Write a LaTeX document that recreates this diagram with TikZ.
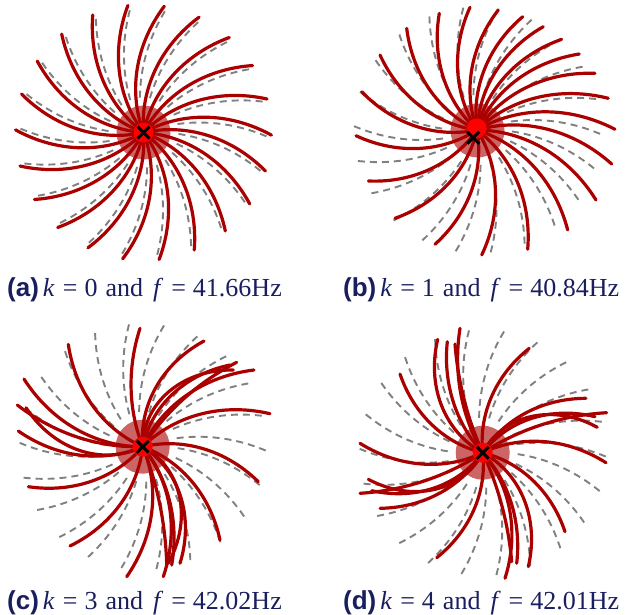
\documentclass[tikz,border=0pt]{standalone}
\usepackage{fontspec}
\setmainfont{Liberation Serif}
\setsansfont{Liberation Sans}
\definecolor{armred}{RGB}{170,0,0}
\definecolor{glowred}{RGB}{170,0,0}
\definecolor{dashgray}{RGB}{128,128,128}
\definecolor{capblue}{RGB}{25,30,95}
\tikzset{
  redarm/.style={armred, line width=3.2pt, line cap=round},
  dasharc/.style={dashgray, line width=1.9pt, dash pattern=on 7pt off 5pt},
  glow/.style={fill=glowred, fill opacity=0.6, draw=none},
  srcdot/.style={fill=red, draw=none},
  xmark/.style={black, line width=3pt},
  captext/.style={anchor=base west, inner sep=0pt, text=capblue, font=\fontsize{26}{30}\selectfont},
}
% cx cy dx dy twist
\newcommand\drawarm[5]{%
  \draw[redarm] plot[domain=0:1, samples=30, variable=\tt, smooth]
   ({#1+\tt*((#3)*cos(-(#5)*(1-\tt)) - (#4)*sin(-(#5)*(1-\tt)))},
    {#2+\tt*((#3)*sin(-(#5)*(1-\tt)) + (#4)*cos(-(#5)*(1-\tt)))});
}
\newcommand\dashoff{1.5}
\newcommand\dashtw{23}
\newcommand\dashset[2]{%
  \foreach \i in {0,...,21}{
    \pgfmathsetmacro\aa{-97+16.3636*\i+\dashoff}
    \draw[dasharc] plot[domain=35:125, samples=25, variable=\rr, smooth]
      ({#1+\rr*cos(\aa-\dashtw*(1-\rr/128))},{#2+\rr*sin(\aa-\dashtw*(1-\rr/128))});
  }}
\newcommand\capt[3]{{\sffamily\bfseries (#1)}\hspace{4pt}\textit{k}\hspace{8pt}=\hspace{7pt}#2\hspace{8pt}and\hspace{10pt}\textit{f}\hspace{8pt}=\hspace{7pt}#3Hz}
\begin{document}
\begin{tikzpicture}[x=1pt,y=-1pt]
\useasboundingbox (0,0) rectangle (639,614);
% ---------- (a)
\dashset{143.5}{132.5}
\fill[glow] (143.5,132.5) circle[radius=27pt];
\foreach \i in {0,...,21}{
  \pgfmathsetmacro\aa{-97+16.3636*\i}
  \draw[redarm] plot[domain=0:128, samples=30, variable=\rr, smooth]
    ({143.5+\rr*cos(\aa-30*(1-\rr/128))},{132.5+\rr*sin(\aa-30*(1-\rr/128))});
}
\fill[srcdot] (143.5,132.5) circle[radius=10pt];
\draw[xmark] (137.5,126.5) -- (149.5,138.5) (137.5,138.5) -- (149.5,126.5);
% ---------- (b)
\dashset{477}{130}
\fill[glow] (477.5,130.5) circle[radius=27pt];
\foreach \dx/\dy in {-7/-122.7, 21.3/-120, 45.7/-113.3, 66.3/-103.3, 84.7/-90.7, 102.3/-76, 118/-56.7, 131.3/-31.7, 138/-0.7, 134.7/34, 119/70, 90.7/100, 50.7/119.3, 4.7/125, -42/114.3, -82/88.3, -108.7/51, -121/5.7, -115.3/-38.3, -97/-75, -70.3/-101.7, -37.7/-116.7}{
  \drawarm{477}{130}{\dx}{\dy}{30}
}
\fill[srcdot] (476.7,128.3) circle[radius=10pt];
\draw[xmark] (467.3,131.7) -- (479.3,143.7) (467.3,143.7) -- (479.3,131.7);
% ---------- (c)
\dashset{142.7}{446.7}
\fill[glow] (142.7,446.7) circle[radius=27pt];
\foreach \dx/\dy/\tw in {-2.7/-118.4/20, 61.3/-105.7/35, 94/-84.4/15, 87.3/-81.7/35, 90.6/-76.7/50, 111.3/-76.7/30, 127.3/-33/30, 115.6/35/30, 77.3/93.3/30, 37.3/116.6/40, 29/118.3/25, 24/117.6/10, 25.6/116.6/50, 20.6/130/30, -16/130/30, -72.7/99.3/30, -114.4/40/30, -124.4/-15.7/30, -125.4/-41.7/20, -116.7/-39/45, -118.7/-67.7/30, -74.4/-102.4/30}{
  \drawarm{142.7}{446.7}{\dx}{\dy}{\tw}
}
\fill[srcdot] (142.7,446.7) circle[radius=10pt];
\draw[xmark] (136.7,440.7) -- (148.7,452.7) (136.7,452.7) -- (148.7,440.7);
% ---------- (d)
\dashset{482.7}{452.7}
\fill[glow] (482.7,452.7) circle[radius=27pt];
\foreach \dx/\dy/\tw in {-22.7/-124.4/20, -45/-113.4/40, -35.4/-111/25, -27.7/-108.7/10, 46.6/-104.4/30, 103.3/-54.4/30, 124/-40/15, 112.3/-36/35, 114.6/-25.4/50, 123.3/10/30, 82.3/79/30, 45.6/114/40, 34/110.6/25, 29/109/10, 22.3/125.6/30, -46/105/30, -102.7/55.6/30, -122.7/40.6/15, -111/38/35, -114.4/26.6/50, -122.7/-9.4/30, -82.7/-78.7/30}{
  \drawarm{482.7}{452.7}{\dx}{\dy}{\tw}
}
\fill[srcdot] (482.7,452.7) circle[radius=10pt];
\draw[xmark] (476.7,446.7) -- (488.7,458.7) (476.7,458.7) -- (488.7,446.7);
% ---------- captions
\node[captext] (capa) at (7,296) {\capt{a}{0}{41.66}};
\node[captext] (capb) at (343,296) {\capt{b}{1}{40.84}};
\node[captext] (capc) at (7,609) {\capt{c}{3}{42.02}};
\node[captext] (capd) at (343,609) {\capt{d}{4}{42.01}};
\end{tikzpicture}
\end{document}
